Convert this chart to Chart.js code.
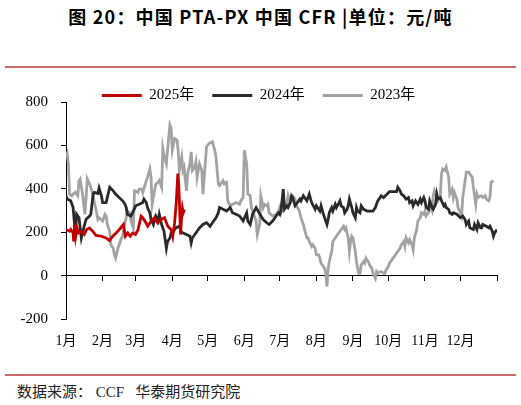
<!DOCTYPE html>
<html><head><meta charset="utf-8">
<script src="https://cdn.jsdelivr.net/npm/chart.js@4"></script>
<style>
html,body{margin:0;padding:0;background:#fff;width:521px;height:405px;overflow:hidden;}
#title{position:absolute;left:0;top:6px;width:521px;text-align:center;font:bold 18px/20px "Noto Sans CJK SC";letter-spacing:1.2px;color:#000;white-space:pre;}
.rule{position:absolute;left:5px;width:511px;height:2px;background:#c76b6b;}
#src{position:absolute;left:17px;top:383px;font:15px/18px "Liberation Serif","Noto Sans CJK SC";color:#222;white-space:pre;}
#wrap{position:absolute;left:0;top:70px;width:521px;height:294px;}
</style></head>
<body>
<div id="title">图 20：中国 PTA-PX 中国 CFR |单位：元/吨</div>
<div class="rule" style="top:66px"></div>
<div class="rule" style="top:374px"></div>
<div id="src">数据来源： CCF   华泰期货研究院</div>
<div id="wrap"><canvas id="c"></canvas></div>
<script>
const monthTicks = [0,31,59,90,120,151,181,212,243,273,304,334,365];
const monthLabels = ['1月','2月','3月','4月','5月','6月','7月','8月','9月','10月','11月','12月',''];
const yTicks = [-200,0,200,400,600,800];

const days2025 = [0,3,4,6,6.5,7.4,8.2,9.3,10.7,12.7,15.5,17.5,19.8,22.6,25.4,29.7,33.9,36.8,39.6,42.4,45.2,48.6,50.3,52.3,54.3,56.5,58.8,61,63.6,65,67.8,69.2,72.1,74.9,77.7,80.6,83.4,86.2,89.1,90.4,91.9,93.3,94.7,95.5,96.3,97,97.8,98.6,99.3,100.3];
const values2025 = [213,205,213,197,158,236,182,220,197,205,190,213,220,205,186,182,174,162,182,197,213,236,182,197,182,197,190,212,274,267,243,228,251,267,243,259,267,228,212,181,240,330,470,420,300,190,260,310,290,305];

const days2024 = [0,1,4,6,7,8,9,11,13,15,17,20,21,23,24,27,28,30,31,34,37,40,42,45,48,50,51,52,55,57,59,62,65,66,68,69,71,72,74,75,76,78,79,81,82,83,85,86,88,89,91,93,96,98,99,102,105,106,107,110,113,116,119,122,124,127,129,130,133,136,139,141,144,147,150,153,154,156,158,161,164,167,170,172,175,178,180,181,182,184,185,187,188,190,191,192,194,195,198,199,201,204,206,208,211,212,215,216,218,221,222,223,225,226,228,229,232,233,235,236,238,239,240,242,243,245,246,247,249,250,252,255,257,260,262,263,264,267,269,272,274,277,280,281,283,284,286,288,290,291,293,294,296,297,298,300,301,303,304,305,307,308,310,311,313,314,315,317,318,320,321,322,324,325,327,328,331,334,336,338,339,341,342,345,346,348,349,351,352,353,356,358,359,361,362,363,365];
const values2024 = [368,353,345,314,252,190,283,267,174,220,260,275,283,376,384,379,404,368,337,337,407,391,376,360,345,329,314,283,275,298,322,329,337,353,337,314,290,259,236,259,275,252,283,236,220,205,127,158,174,197,205,220,228,197,197,190,182,151,174,197,220,236,244,228,244,267,290,314,306,298,314,290,283,275,252,290,252,236,283,314,285,259,244,236,252,275,290,283,298,399,306,322,314,337,368,360,322,329,353,345,368,345,376,337,306,322,298,322,283,236,259,290,314,298,329,314,345,322,314,290,306,322,353,314,290,267,314,298,290,322,306,298,298,298,314,329,345,368,360,376,387,387,387,407,391,376,368,353,360,337,345,322,345,337,329,353,337,360,345,314,306,345,314,306,329,376,353,360,345,322,329,314,306,290,283,290,283,267,275,259,236,252,221,213,236,213,244,221,221,236,228,221,228,205,182,197,213];

const days2023 = [0,1,2,3,5,6,8,10,11,12,14,16,17,18,20,21,23,24,25,27,28,31,33,34,35,37,38,40,41,42,44,45,47,48,49,51,52,54,55,57,58,59,61,62,64,65,68,69,71,72,73,75,76,78,79,81,82,83,85,86,88,89,90,92,94,95,96,98,99,100,102,103,105,106,107,109,110,111,113,115,116,119,121,124,126,127,129,130,131,133,134,136,137,139,141,144,147,148,150,151,153,154,156,157,158,161,162,164,165,167,168,170,171,172,175,178,180,181,182,184,187,188,189,191,192,194,195,197,198,199,201,202,204,205,206,208,209,211,212,214,215,216,218,219,220,221,222,223,225,226,228,229,230,232,233,235,236,237,239,240,241,242,243,245,246,247,248,249,250,252,253,254,256,257,259,260,262,263,264,266,267,269,270,271,273,274,277,280,283,284,286,287,288,290,291,293,294,295,297,298,300,301,303,304,305,307,308,310,311,312,314,315,317,318,319,321,322,324,325,327,328,329,331,332,334,335,336,338,339,341,342,344,345,346,347,348,349,351,352,353,355,356,358,359,360,362];
const values2023 = [547,562,516,376,368,376,384,368,438,446,376,283,360,446,422,407,368,337,314,259,267,252,283,275,236,205,143,127,96,81,127,143,174,182,221,267,298,290,252,221,391,391,383,399,399,383,438,453,492,453,329,391,422,430,438,407,586,555,516,578,694,679,578,632,625,578,485,547,485,500,391,469,516,570,485,500,524,453,516,485,376,593,609,617,578,547,423,415,423,438,423,430,345,322,329,337,329,345,360,578,516,376,368,314,298,252,190,236,368,314,329,322,329,290,275,283,298,314,290,329,337,368,345,368,368,353,322,306,290,267,236,213,174,174,158,135,143,127,96,96,81,58,42,34,11,-50,34,65,112,158,174,182,190,205,213,228,213,221,174,112,158,182,174,112,65,34,11,11,50,65,58,81,65,50,34,11,-12,19,11,19,19,11,11,27,42,58,81,104,127,143,158,135,174,151,166,143,120,174,213,252,267,290,283,298,275,290,322,298,368,391,360,345,368,469,492,485,500,455,376,399,360,383,353,314,290,275,360,438,477,477,469,453,407,368,329,376,360,368,368,360,368,353,345,360,430,438];

const toPts = (d, v) => d.map((x, i) => ({x: x, y: v[i]}));
const serif = '"Liberation Serif", "Noto Sans CJK SC"';
const setMonthTicks = a => { a.ticks = monthTicks.map(v => ({value: v})); };
const setYTicks = a => { a.ticks = yTicks.map(v => ({value: v})); };

const line = (label, d, v, color) => ({
  label, data: toPts(d, v), borderColor: color, backgroundColor: color,
  borderWidth: 2.8, pointRadius: 0, tension: 0, xAxisID: 'x', yAxisID: 'y'
});

new Chart(document.getElementById('c'), {
  type: 'line',
  data: { datasets: [
    line('2025年', days2025, values2025, '#c00000'),
    line('2024年', days2024, values2024, '#2a2a2a'),
    line('2023年', days2023, values2023, '#a3a3a3')
  ]},
  options: {
    animation: false, responsive: true, maintainAspectRatio: false,
    layout: { padding: { left: 20, right: 24, top: 0, bottom: 0 } },
    plugins: {
      legend: { position: 'top', maxHeight: 32,
        labels: { usePointStyle: true, pointStyle: 'line', pointStyleWidth: 40, padding: 18,
                  color: '#000', font: { family: serif, size: 15 } } },
      tooltip: { enabled: false }
    },
    scales: {
      x: { type: 'linear', min: 0, max: 365, position: { y: 0 },
           border: { display: true, color: '#000', width: 1 },
           grid: { drawOnChartArea: false, drawTicks: true, tickLength: 5, color: '#000' },
           ticks: { display: false }, afterBuildTicks: setMonthTicks },
      xl: { type: 'linear', min: 0, max: 365, position: 'bottom',
            border: { display: false }, grid: { display: false, drawTicks: false },
            ticks: { autoSkip: false, maxRotation: 0, padding: 14, color: '#000',
                     font: { family: serif, size: 14 }, callback: (v, i) => monthLabels[i] },
            afterBuildTicks: setMonthTicks },
      y: { type: 'linear', min: -200, max: 800, position: 'left',
           border: { display: true, color: '#000', width: 1 },
           grid: { drawOnChartArea: false, tickLength: 5, color: '#000' },
           ticks: { padding: 13, color: '#000', font: { family: serif, size: 15 } },
           afterBuildTicks: setYTicks, afterFit: a => { a.width = 46; } }
    }
  }
});
</script>
</body></html>
